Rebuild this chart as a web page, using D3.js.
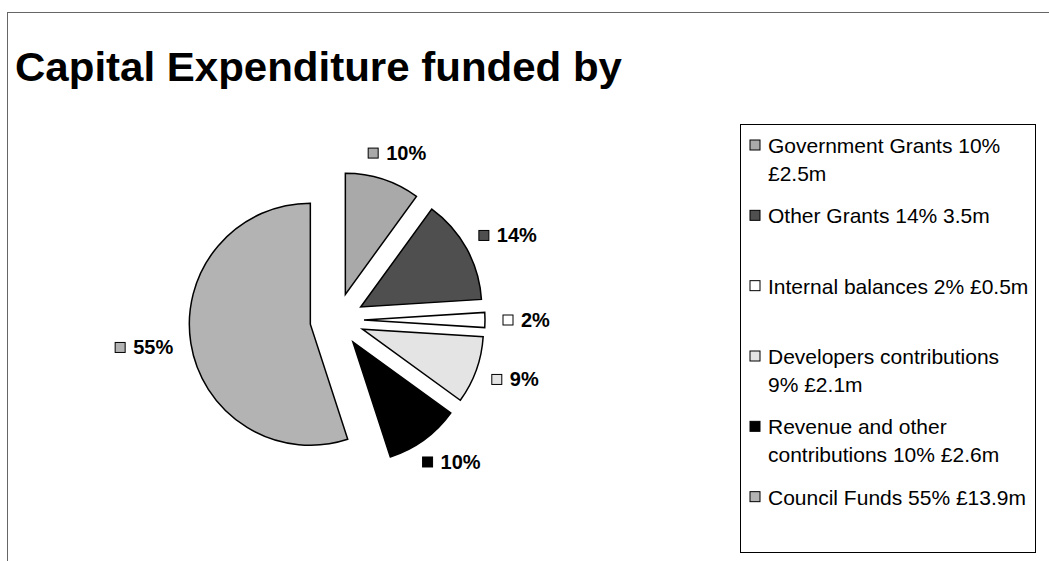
<!DOCTYPE html>
<html>
<head>
<meta charset="utf-8">
<script src="https://cdnjs.cloudflare.com/ajax/libs/d3/7.8.5/d3.min.js"></script>
<style>
    body { margin: 0; background: #fff; }
    text { font-family: "Liberation Sans", Arial, sans-serif; }
</style>
</head>
<body>
<div id="pie-chart"></div>
<script>

// Chart data

var categories = [ "Government Grants", "Other Grants", "Internal balances", "Developers contributions", "Revenue and other contributions", "Council Funds" ];
var percents = [ 10, 14, 2, 9, 10, 55 ];
var amounts = [ "£2.5m", "3.5m", "£0.5m", "£2.1m", "£2.6m", "£13.9m" ];
var legendLines = [
    [ "Government Grants 10%", "£2.5m" ],
    [ "Other Grants 14% 3.5m" ],
    [ "Internal balances 2% £0.5m" ],
    [ "Developers contributions", "9% £2.1m" ],
    [ "Revenue and other", "contributions 10% £2.6m" ],
    [ "Council Funds 55% £13.9m" ]
];
var fills = [ "#a9a9a9", "#4f4f4f", "#ffffff", "#e4e4e4", "#000000", "#b3b3b3" ];

// Chart size

var svg = d3.select("#pie-chart").append("svg")
    .attr("width", 1049)
    .attr("height", 561);

// Outer frame (top and left edges only show)

svg.append("rect")
    .attr("x", 7.5)
    .attr("y", 12.5)
    .attr("width", 1060)
    .attr("height", 570)
    .style("fill", "none")
    .style("stroke", "#666")
    .style("stroke-width", 1);

// Title

svg.append("text")
    .attr("x", 15)
    .attr("y", 81)
    .attr("textLength", 607)
    .attr("lengthAdjust", "spacingAndGlyphs")
    .text("Capital Expenditure funded by")
    .style("font-size", "40px")
    .style("font-weight", "bold")
    .style("fill", "#000");

// Pie

var cx = 337, cy = 320, radius = 121, explode = 27;

var pie = d3.pie().sort(null).value(function ( d ) { return d; });
var arc = d3.arc().innerRadius(0).outerRadius(radius);
var arcs = pie(percents);

function midDir ( d ) {
    var a = ( d.startAngle + d.endAngle ) / 2;
    return [ Math.sin(a), -Math.cos(a) ];
}

var pieG = svg.append("g")
    .attr("transform", "translate(" + cx + "," + cy + ")");

pieG.selectAll("path.slice")
    .data(arcs)
    .enter()
    .append("path")
    .attr("class", "slice")
    .attr("d", arc)
    .attr("transform", function ( d ) {
        var m = midDir(d);
        return "translate(" + ( m[0] * explode ) + "," + ( m[1] * explode ) + ")";
    })
    .style("fill", function ( d, i ) { return fills[i]; })
    .style("stroke", "#000")
    .style("stroke-width", 1.5)
    .style("stroke-linejoin", "miter");

// Slice labels

var labels = pieG.selectAll("g.label")
    .data(arcs)
    .enter()
    .append("g")
    .attr("class", "label");

labels.append("rect")
    .attr("x", 0)
    .attr("y", -5)
    .attr("width", 10)
    .attr("height", 10)
    .style("fill", function ( d, i ) { return fills[i]; })
    .style("stroke", "#000")
    .style("stroke-width", 1);

labels.append("text")
    .attr("x", 18)
    .attr("y", 7)
    .text(function ( d, i ) { return percents[i] + "%"; })
    .style("font-size", "20px")
    .style("font-weight", "bold")
    .style("fill", "#000");

labels.attr("transform", function ( d ) {
    var m = midDir(d);
    var w = this.getBBox().width, h = 19;
    var r = explode + radius + 18;
    var x = m[0] * r + m[0] * w / 2 - w / 2;
    var y = m[1] * r + m[1] * h / 2;
    return "translate(" + x + "," + y + ")";
});

// Legend

svg.append("rect")
    .attr("x", 740.5)
    .attr("y", 124.5)
    .attr("width", 295)
    .attr("height", 428)
    .style("fill", "#fff")
    .style("stroke", "#000")
    .style("stroke-width", 1);

var legendY = d3.scaleBand()
    .domain(categories)
    .range([ 124, 546 ]);

var items = svg.selectAll("g.legend")
    .data(categories)
    .enter()
    .append("g")
    .attr("class", "legend")
    .attr("transform", function ( d ) { return "translate(750," + ( legendY(d) + 29 ) + ")"; });

items.append("rect")
    .attr("x", 0)
    .attr("y", -13)
    .attr("width", 10)
    .attr("height", 10)
    .style("fill", function ( d, i ) { return fills[i]; })
    .style("stroke", "#000")
    .style("stroke-width", 1);

items.each(function ( d, i ) {
    d3.select(this).selectAll("text")
        .data(legendLines[i])
        .enter()
        .append("text")
        .attr("x", 18)
        .attr("y", function ( t, j ) { return j * 28; })
        .text(function ( t ) { return t; })
        .style("font-size", "21px")
        .style("fill", "#000");
});

</script>
</body>
</html>
